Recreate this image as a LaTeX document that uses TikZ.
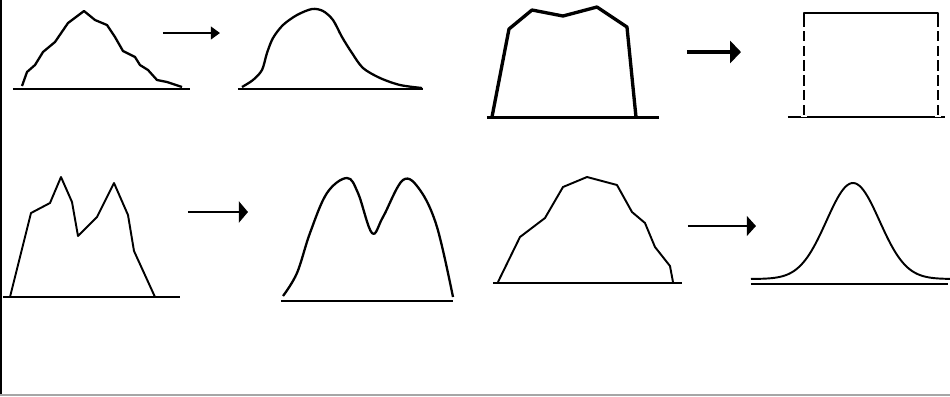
\documentclass[tikz,border=0pt]{standalone}
\usepackage{tikz}
\usetikzlibrary{arrows.meta}

\begin{document}
\begin{tikzpicture}[x=0.01cm, y=-0.01cm,
    curve/.style={line width=0.65pt, line join=round},
    base/.style={line width=0.7pt},
    arr/.style={line width=0.6pt, -{Triangle[length=2.6pt, width=6pt]}}]
    \useasboundingbox (0,0) rectangle (950,396);

    % Frame
    \fill (0,0) rectangle (2.5,396);
    \draw[gray!70, line width=0.6pt] (0,395) -- (950,395);

    % Rough skewed peak
    \draw[base] (13,89) -- (190,89);
    \draw[curve] (22,86) -- (27,72) -- (35,65) -- (43,52) -- (55,42) -- (68,23) -- (84,11)
        -- (95,20) -- (107,25) -- (115,37) -- (123,51) -- (135,57) -- (140,65) -- (148,70)
        -- (157,80) -- (167,82) -- (182,87);
    \coordinate (a1s) at (163,33);
    \coordinate (a1e) at (220,33);
    \draw[arr, -{Triangle[length=2.6pt, width=3.6pt]}] (a1s) -- (a1e);

    % Smooth skewed peak
    \draw[base] (238,89) -- (423,89);
    \draw[curve] plot[smooth, tension=0.5] coordinates {(242,87) (253,80) (262,70) (267,53)
        (273,38) (283,25) (297,15) (312,9) (323,11) (333,20) (342,37) (352,53) (363,68)
        (380,78) (400,85) (422,88)};

    % Rough plateau
    \draw[base, line width=0.85pt] (487,117) -- (659,117);
    \draw[curve, line width=0.95pt] (492,117) -- (509,29) -- (532,10) -- (563,16) -- (597,7)
        -- (627,27) -- (636,117);
    \coordinate (a2s) at (687,52);
    \coordinate (a2e) at (741,52);
    \draw[arr, line width=0.9pt, -{Triangle[length=3.1pt, width=6.3pt]}] (a2s) -- (a2e);

    % Rectangle
    \draw[base] (788,117) -- (945,117);
    \draw[curve, line width=0.7pt] (804,117) -- (804,13) -- (938,13) -- (938,117);
    \draw[white, line width=1.5pt, dash pattern=on 0pt off 3pt on 1.2pt off 0pt]
        (804,16) -- (804,117) (938,16) -- (938,117);

    % Rough double peak
    \draw[base] (3,297) -- (180,297);
    \draw[curve, line width=0.55pt] (10,297) -- (31,213) -- (50,203) -- (61,177) -- (72,202)
        -- (78,236) -- (97,217) -- (114,183) -- (128,215) -- (134,251) -- (155,297);
    \coordinate (a3s) at (188,212);
    \coordinate (a3e) at (248,212);
    \draw[arr] (a3s) -- (a3e);

    % Smooth double peak
    \draw[base] (281,301) -- (453,301);
    \draw[curve] plot[smooth, tension=0.6] coordinates {(283,296) (297,273) (310,233)
        (327,193) (347,178) (358,193) (372,233) (383,217) (403,180) (420,190) (437,227)
        (453,297)};

    % Rough symmetric peak
    \draw[base] (493,283) -- (682,283);
    \draw[curve, line width=0.55pt] (498,282) -- (520,237) -- (545,218) -- (563,187) -- (587,177)
        -- (617,185) -- (632,212) -- (645,223) -- (655,247) -- (670,266) -- (673,282);
    \coordinate (a4s) at (688,226);
    \coordinate (a4e) at (756,226);
    \draw[arr, -{Triangle[length=2.6pt, width=5.6pt]}] (a4s) -- (a4e);

    % Normal curve
    \draw[base] (751,284) -- (948,284);
    \draw[curve, line width=0.55pt] plot[domain=751:950, samples=100]
        (\x, {279-96*exp(-((\x-853)/26.5)^2/2)});
\end{tikzpicture}
\end{document}
